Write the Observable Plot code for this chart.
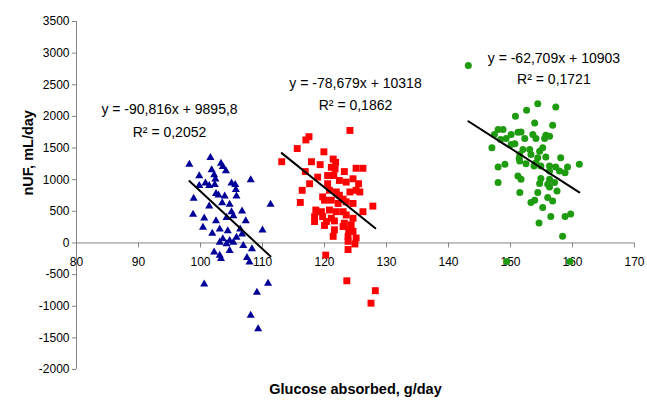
<!DOCTYPE html>
<html><head><meta charset="utf-8">
<script src="https://cdn.jsdelivr.net/npm/d3@7"></script>
<script src="https://cdn.jsdelivr.net/npm/@observablehq/plot@0.6"></script>
<style>
body{margin:0;background:#fff;}
#chart svg{display:block;}
</style></head><body><div id="chart"></div>
<script>
const blueTriangles = [[98.2,1243],[101.6,1347],[103.3,1258],[103.6,1206],[104.1,1139],[101.8,1154],[102.2,1076],[99.8,1061],[102.4,1009],[108.1,998],[105.0,946],[105.6,920],[99.8,905],[100.8,946],[101.4,905],[102.3,920],[98.9,702],[102.5,780],[102.9,754],[103.9,738],[105.7,842],[105.8,738],[103.5,634],[101.4,582],[104.7,608],[111.3,608],[105.0,489],[106.7,504],[98.8,452],[100.6,390],[102.5,348],[104.2,400],[105.3,426],[107.3,348],[100.4,244],[101.9,151],[103.1,218],[104.4,192],[106.4,218],[110.0,203],[103.6,62],[104.7,36],[105.8,88],[106.7,140],[103.1,10],[104.2,-16],[105.3,10],[106.9,-42],[108.3,-94],[104.7,-120],[102.2,-146],[103.1,-198],[103.3,-250],[107.5,-234],[107.9,-302],[100.6,-650],[110.9,-640],[109.1,-780],[108.1,-1144],[109.3,-1357]];
const redSquares = [[124.1,1778],[117.5,1680],[117.0,1628],[115.6,1492],[119.9,1440],[113.1,1284],[117.9,1284],[119.3,1238],[121.4,1326],[121.8,1274],[121.1,1196],[121.7,1170],[123.2,1128],[125.1,1180],[126.2,1180],[116.9,1128],[118.9,1040],[120.5,1066],[121.5,1066],[122.4,988],[123.5,962],[124.6,1014],[125.5,936],[117.6,936],[120.5,936],[116.4,832],[120.8,832],[121.9,806],[124.1,806],[125.1,832],[125.7,806],[119.7,728],[122.4,754],[123.0,692],[116.1,640],[120.0,676],[121.1,676],[122.2,624],[123.5,650],[124.6,624],[127.8,582],[118.6,520],[119.5,494],[120.8,520],[121.9,494],[123.0,494],[126.2,494],[118.4,416],[119.7,416],[121.1,390],[123.5,442],[124.6,390],[118.4,338],[120.3,338],[121.6,348],[123.2,312],[124.3,286],[120.0,276],[123.0,260],[123.9,208],[121.6,208],[124.6,182],[121.4,104],[123.8,104],[125.1,78],[123.8,26],[124.9,-16],[123.8,-104],[120.2,-192],[123.6,-598],[128.2,-754],[127.5,-952]];
const greenCircles = [[143.2,2803],[154.4,2201],[157.3,2148],[152.6,2096],[150.8,2002],[153.9,1897],[156.8,1860],[148.0,1792],[148.8,1792],[147.4,1713],[150.1,1713],[151.2,1750],[151.7,1755],[153.6,1713],[155.7,1703],[156.3,1687],[148.4,1635],[149.3,1651],[152.3,1651],[154.1,1651],[155.5,1651],[147.0,1504],[150.1,1556],[150.7,1567],[152.0,1478],[153.1,1478],[154.7,1451],[155.2,1504],[151.5,1399],[153.3,1399],[154.4,1347],[155.7,1357],[148.0,1200],[149.1,1242],[151.4,1336],[151.5,1294],[152.5,1252],[154.1,1268],[156.3,1216],[157.3,1200],[158.1,1347],[159.2,1200],[161.1,1242],[153.8,1216],[154.9,1216],[156.3,1137],[157.9,1137],[158.8,1111],[154.9,1017],[156.3,1006],[148.0,954],[151.2,1058],[151.7,1006],[157.1,954],[156.0,927],[156.3,886],[157.5,823],[151.5,796],[154.7,938],[154.4,796],[153.3,639],[153.9,676],[156.0,718],[156.8,665],[155.2,561],[156.5,419],[159.7,456],[158.8,419],[154.6,314],[158.4,105],[149.4,-292],[159.6,-292]];

const xTicks = [80,90,100,110,120,130,140,150,160,170];
const yTicks = [-2000,-1500,-1000,-500,0,500,1000,1500,2000,2500,3000,3500];
const trendSlopes = [-90.816,-78.679,-62.709];
const trendIntercepts = [9895.8,10318,10903];
const equationTexts = ["y = -90,816x + 9895,8","y = -78,679x + 10318","y = -62,709x + 10903"];
const r2Texts = ["R\u00B2 = 0,2052","R\u00B2 = 0,1862","R\u00B2 = 0,1721"];
const annotationX = [95.0,125.0,157.0];
const equationY = [2105,2520,2915];
const r2Y = [1749,2165,2583];

const seriesList = [blueTriangles, redSquares, greenCircles];
const trendRows = seriesList.flatMap((pts, i) => {
  const xs = pts.map(p => p[0]);
  const x0 = d3.min(xs), x1 = d3.max(xs);
  return [x0, x1].map(x => ({s: i, x, y: trendSlopes[i]*x + trendIntercepts[i]}));
});
const annRows = equationTexts.map((t, i) => ({x: annotationX[i], y: equationY[i], t}))
  .concat(r2Texts.map((t, i) => ({x: annotationX[i], y: r2Y[i], t})));

const gray = "#868686";
const chart = Plot.plot({
  width: 647, height: 403,
  marginLeft: 76, marginRight: 13, marginTop: 21, marginBottom: 34,
  x: {domain: [80,170], axis: null},
  y: {domain: [-2000,3500]},
  style: {fontFamily: "'Liberation Sans', Arial, sans-serif", fontSize: "12px", background: "white", color: "black"},
  marks: [
    Plot.ruleX([80], {stroke: gray}),
    Plot.ruleY([0], {stroke: gray}),
    Plot.axisY({ticks: yTicks, tickSize: 4, tickPadding: 3, stroke: gray, fill: "black", label: null, tickFormat: d => String(d), fontSize: 12}),
    Plot.ruleX(xTicks, {x: d => d, y1: 0, y2: 0, insetBottom: -5, stroke: gray}),
    Plot.text(xTicks, {x: d => d, y: 0, dy: 19, text: d => String(d), fontSize: 12, fill: "black"}),
    Plot.dot(blueTriangles, {x: d => d[0], y: d => d[1], symbol: "triangle", r: 3, fill: "#000099"}),
    Plot.dot(redSquares, {x: d => d[0], y: d => d[1], symbol: "square", r: 3.9, fill: "#ff0000"}),
    Plot.dot(greenCircles, {x: d => d[0], y: d => d[1], symbol: "circle", r: 3.5, fill: "#1f9b10"}),
    Plot.line(trendRows, {x: "x", y: "y", z: "s", stroke: "black", strokeWidth: 2}),
    Plot.text(annRows, {x: "x", y: "y", text: "t", fontSize: 14, fill: "black"}),
    Plot.text(["nUF, mL/day"], {frameAnchor: "left", dx: -48, rotate: -90, fontSize: 14.5, fontWeight: "bold", fill: "black"}),
    Plot.text(["Glucose absorbed, g/day"], {frameAnchor: "bottom", dy: 24, fontSize: 14.5, fontWeight: "bold", fill: "black"})
  ]
});
document.getElementById("chart").appendChild(chart);
</script>
</body></html>
